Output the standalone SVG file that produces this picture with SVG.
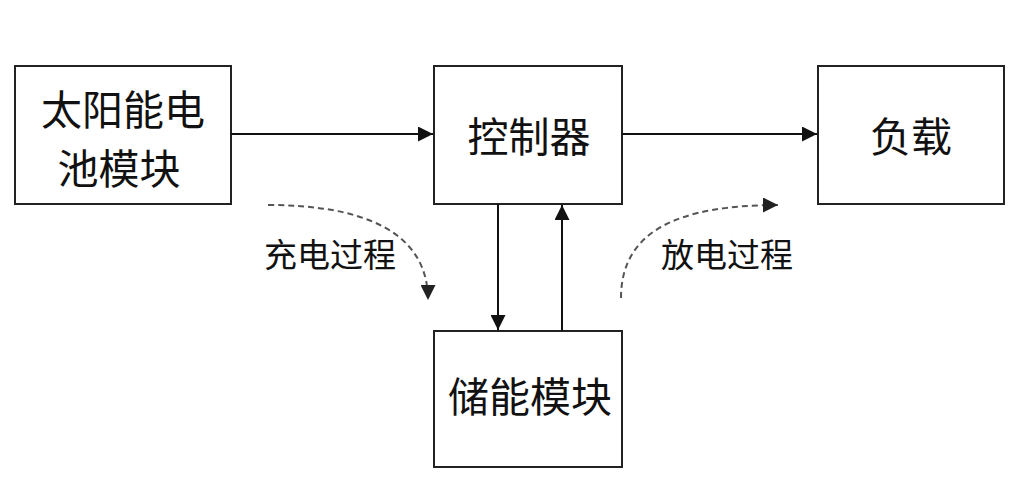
<svg xmlns="http://www.w3.org/2000/svg" width="1019" height="485" viewBox="0 0 1019 485">
<style>
.box{fill:#fff;stroke:#222;stroke-width:2}
.lbl{font-family:"Noto Sans CJK SC","Noto Sans",sans-serif;font-size:41px;fill:#111;text-anchor:middle;dominant-baseline:central}
.sm{font-family:"Noto Sans CJK SC","Noto Sans",sans-serif;font-size:33px;fill:#111;text-anchor:middle;dominant-baseline:central}
.ln{fill:none;stroke:#111;stroke-width:2}
.dash{fill:none;stroke:#555;stroke-width:2;stroke-dasharray:6,4}
</style>
<defs>
<marker id="ah" viewBox="0 0 10 10" refX="10" refY="5" markerWidth="16" markerHeight="15" markerUnits="userSpaceOnUse" orient="auto">
<path d="M0,0 L10,5 L0,10 Z" fill="#111"/>
</marker>
<marker id="ahd" viewBox="0 0 10 10" refX="10" refY="5" markerWidth="16" markerHeight="15" markerUnits="userSpaceOnUse" orient="auto">
<path d="M0,0 L10,5 L0,10 Z" fill="#222"/>
</marker>
</defs>
<rect width="1019" height="485" fill="#fff"/>
<g id="solar">
<rect class="box" x="15" y="66" width="216" height="138"/>
<text class="lbl" x="123" y="107">太阳能电</text>
<text class="lbl" x="119" y="166">池模块</text>
</g>
<g id="controller">
<rect class="box" x="434" y="66" width="188" height="138"/>
<text class="lbl" x="529" y="134">控制器</text>
</g>
<g id="load">
<rect class="box" x="818" y="66" width="186" height="138"/>
<text class="lbl" x="911" y="134">负载</text>
</g>
<g id="storage">
<rect class="box" x="434" y="331" width="188" height="136"/>
<text class="lbl" x="530" y="394">储能模块</text>
</g>
<g id="connectors">
<line class="ln" x1="231" y1="134" x2="433" y2="134" marker-end="url(#ah)"/>
<line class="ln" x1="622" y1="134" x2="817" y2="134" marker-end="url(#ah)"/>
<line class="ln" x1="498" y1="204" x2="498" y2="330" marker-end="url(#ah)"/>
<line class="ln" x1="562" y1="331" x2="562" y2="205" marker-end="url(#ah)"/>
<path class="dash" d="M268,205 C360,205 428,230 428,300" marker-end="url(#ahd)"/>
<path class="dash" d="M621,298 C621,230 680,205 778,205" marker-end="url(#ahd)"/>
</g>
<g id="labels">
<text class="sm" x="330" y="253">充电过程</text>
<text class="sm" x="727" y="253">放电过程</text>
</g>
</svg>
